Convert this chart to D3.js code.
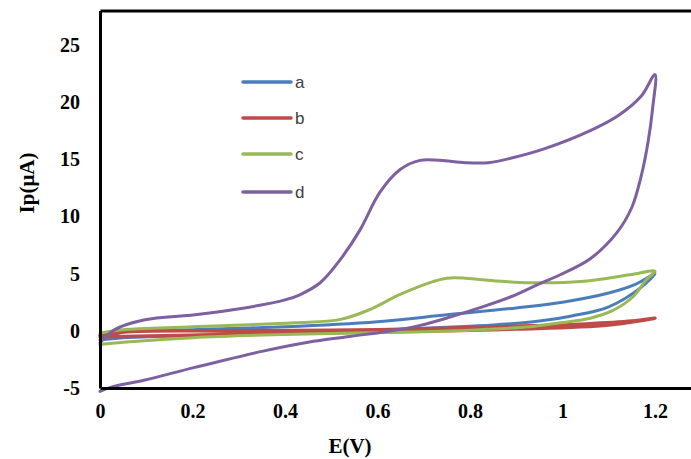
<!DOCTYPE html>
<html>
<head>
<meta charset="utf-8">
<script src="https://cdn.jsdelivr.net/npm/d3@7"></script>
<style>
  body { margin: 0; background: #fff; }
  svg { display: block; }
  .tick text { font-family: "Liberation Serif", "Times New Roman", serif; font-weight: bold; font-size: 20px; fill: #000; }
</style>
</head>
<body>
<svg id="chart" width="691" height="459"></svg>
<script>
// tick values
var xTicks = [0, 0.2, 0.4, 0.6, 0.8, 1, 1.2];
var yTicks = [-5, 0, 5, 10, 15, 20, 25];

// series names + colours
var names = ["a", "b", "c", "d"];
var colors = ["#4a7ebb", "#be4b48", "#98b954", "#7d60a0"];

// each series: forward scan then reverse scan, [E (V), Ip (uA)]
var seriesA = [[0,-0.8],[0.05,-0.1],[0.2,0.1],[0.4,0.35],[0.6,0.8],[0.75,1.4],[0.9,2.0],[1.0,2.5],[1.1,3.3],[1.16,4.1],[1.2,5.0],
  [1.17,3.8],[1.1,2.1],[1.02,1.3],[0.95,0.85],[0.85,0.5],[0.75,0.3],[0.6,0.05],[0.4,-0.2],[0.2,-0.4],[0.05,-0.6],[0,-0.8]];
var seriesB = [[0,-0.4],[0.05,-0.1],[0.3,0.0],[0.6,0.1],[0.9,0.4],[1.05,0.6],[1.15,0.85],[1.2,1.1],
  [1.1,0.5],[0.9,0.15],[0.6,-0.1],[0.3,-0.3],[0.05,-0.5],[0,-0.5]];
var seriesC = [[0,-0.2],[0.05,0.1],[0.2,0.35],[0.42,0.7],[0.52,1.0],[0.58,1.8],[0.65,3.2],[0.72,4.3],[0.75,4.6],[0.79,4.6],[0.86,4.35],[0.93,4.2],[1.04,4.3],[1.146,4.9],[1.2,5.2],
  [1.182,4.5],[1.153,3.0],[1.11,1.8],[1.06,1.1],[0.995,0.7],[0.93,0.35],[0.82,0.1],[0.68,-0.1],[0.42,-0.3],[0.2,-0.6],[0.05,-1.0],[0,-1.2]];
var seriesD = [[0,-1.05],[0.032,0.1],[0.097,0.96],[0.205,1.4],[0.313,2.0],[0.4,2.7],[0.432,3.15],[0.476,4.2],[0.519,6.2],[0.562,8.8],[0.605,12.1],[0.649,14.1],[0.692,14.9],[0.735,14.9],[0.79,14.7],[0.84,14.7],[0.89,15.1],[0.96,15.9],[1.06,17.5],[1.12,18.8],[1.17,20.5],[1.2,22.4],
  [1.195,19.5],[1.185,16.5],[1.17,13.5],[1.15,10.8],[1.118,8.6],[1.06,6.3],[0.995,4.9],[0.95,4.1],[0.89,3.0],[0.82,2.0],[0.757,1.2],[0.69,0.45],[0.63,0.0],[0.54,-0.5],[0.45,-1.0],[0.35,-1.8],[0.205,-3.2],[0.097,-4.3],[0.026,-4.9],[0,-5.3]];
var allSeries = [seriesA, seriesB, seriesC, seriesD];

var svg = d3.select("#chart");

var x = d3.scaleLinear().domain([0, 1.4]).range([100, 747.5]);
var y = d3.scaleLinear().domain([-5, 28]).range([388, 10.5]);

var line = d3.line()
    .x(function (d) { return x(d[0]); })
    .y(function (d) { return y(d[1]); })
    .curve(d3.curveCatmullRom.alpha(0.5));

// curves
svg.selectAll(".cv")
    .data(allSeries)
    .enter()
    .append("path")
        .attr("class", "cv")
        .attr("d", line)
        .attr("fill", "none")
        .attr("stroke", function (d, i) { return colors[i]; })
        .attr("stroke-width", function (d, i) { return i == 1 ? 3.5 : 3; })
        .attr("stroke-linejoin", "round")
        .attr("stroke-linecap", "round");

// axes (plain hyphen for negatives, like the original)
var fmt = function (d) { return String(d); };
svg.append("g")
    .attr("transform", "translate(100,0)")
    .call(d3.axisLeft(y).tickValues(yTicks).tickSize(0).tickPadding(20).tickFormat(fmt));
svg.append("g")
    .attr("transform", "translate(0,388)")
    .call(d3.axisBottom(x).tickValues(xTicks).tickSize(0).tickPadding(16).tickFormat(fmt));
svg.append("g")
    .attr("transform", "translate(0,10.5)")
    .call(d3.axisTop(x).tickValues([]).tickSize(0));

svg.selectAll(".domain").attr("stroke", "#000").attr("stroke-width", 3);

// axis titles
svg.append("text")
    .attr("x", 350).attr("y", 453)
    .attr("text-anchor", "middle")
    .style("font-family", "'Liberation Serif', 'Times New Roman', serif")
    .style("font-weight", "bold")
    .style("font-size", "21px")
    .text("E(V)");

svg.append("text")
    .attr("transform", "translate(34,183) rotate(-90)")
    .attr("text-anchor", "middle")
    .style("font-family", "'Liberation Serif', 'Times New Roman', serif")
    .style("font-weight", "bold")
    .style("font-size", "21px")
    .text("Ip(μA)");

// legend
var legendY = [82, 118, 154, 192];
svg.selectAll(".legline")
    .data(names)
    .enter()
    .append("line")
        .attr("x1", 243).attr("x2", 291)
        .attr("y1", function (d, i) { return legendY[i]; })
        .attr("y2", function (d, i) { return legendY[i]; })
        .attr("stroke", function (d, i) { return colors[i]; })
        .attr("stroke-width", 3.5)
        .attr("stroke-linecap", "round");

svg.selectAll(".leglabel")
    .data(names)
    .enter()
    .append("text")
        .attr("x", 295)
        .attr("y", function (d, i) { return legendY[i] + 6; })
        .style("font-family", "'Liberation Sans', Arial, sans-serif")
        .style("font-size", "17px")
        .style("fill", "#404040")
        .text(function (d) { return d; });
</script>
</body>
</html>
